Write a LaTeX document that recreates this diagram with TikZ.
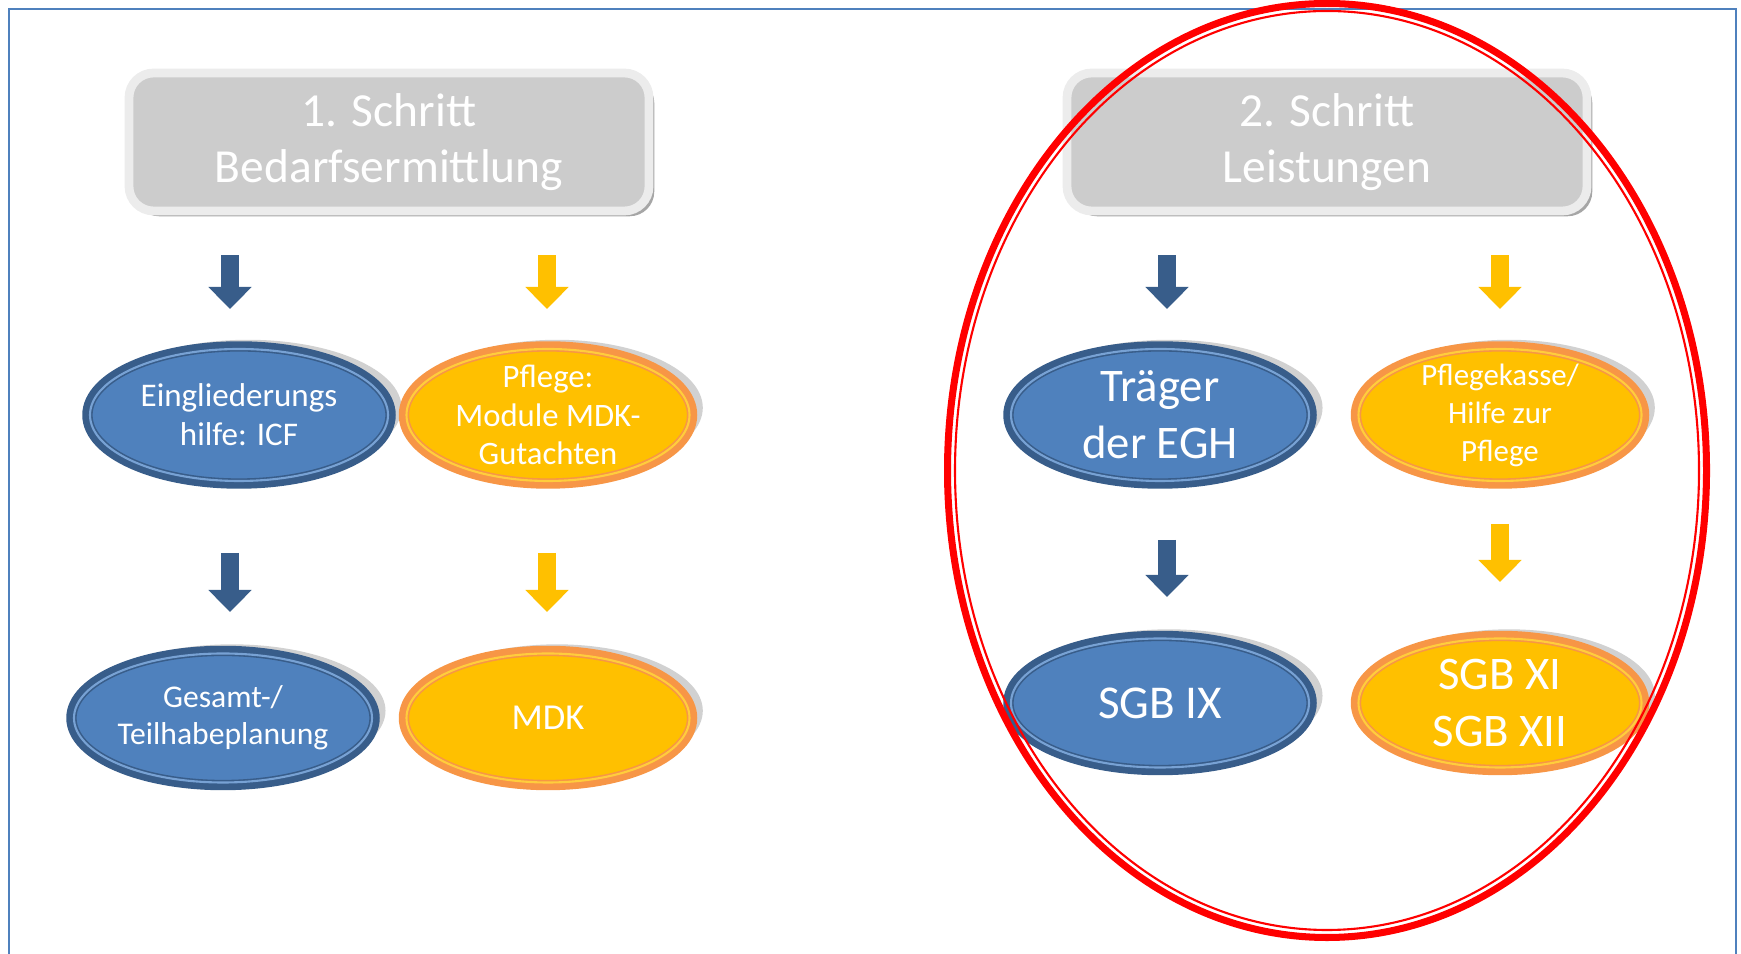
\documentclass[tikz,border=0pt]{standalone}
\usepackage{fontspec}
\setmainfont{Carlito}
\usepackage{tikz}
\usetikzlibrary{shapes.geometric, arrows.meta, shadows}
\definecolor{eghBlue}{RGB}{79, 129, 189}
\definecolor{eghDark}{RGB}{56, 93, 138}
\definecolor{eghLight}{RGB}{120, 162, 212}
\definecolor{pflYellow}{RGB}{255, 192, 0}
\definecolor{pflOrange}{RGB}{247, 150, 70}
\definecolor{pflLight}{RGB}{255, 205, 60}
\definecolor{stepGray}{RGB}{204, 204, 204}
\definecolor{stepRim}{RGB}{236, 236, 236}
\definecolor{frameBlue}{RGB}{79, 129, 189}
\definecolor{ringRed}{RGB}{255, 0, 0}

\begin{document}
\begin{tikzpicture}[
    stepbox/.style={draw=stepRim, fill=stepGray, line width=2.5pt, rounded corners=7pt, minimum width=5.2cm, minimum height=1.38cm, text=white, align=center, font=\fontsize{13.5}{16.1}\selectfont, drop shadow={shadow xshift=1.5pt, shadow yshift=-1.5pt, fill=black, opacity=0.35}},
    oval/.style={ellipse, inner xsep=-3mm, inner ysep=-6mm, outer sep=0pt, text=white, align=center, line width=0.45pt, double distance=0.6pt, drop shadow={shadow xshift=2.5pt, shadow yshift=2pt, shadow scale=1.03, fill=black, opacity=0.18}},
    eghoval/.style={oval, fill=eghBlue, draw=eghDark, double=eghLight, preaction={draw=eghDark, line width=4.4pt}, minimum width=2.98cm},
    pfloval/.style={oval, fill=pflYellow, draw=pflOrange, double=pflLight, preaction={draw=pflOrange, line width=4.4pt}, minimum width=2.83cm},
    eghdown/.style={-{Triangle[width=4.2mm, length=2.2mm]}, line width=1.8mm, color=eghDark},
    pfldown/.style={-{Triangle[width=4.2mm, length=2.2mm]}, line width=1.8mm, color=pflYellow}
]
    \useasboundingbox (0,0) rectangle (17.41,-9.54);

    % Frame
    \draw[frameBlue, line width=0.5pt] (0.09,-9.8) -- (0.09,-0.09) -- (17.36,-0.09) -- (17.36,-9.8);

    % Step 1: Bedarfsermittlung
    \node[stepbox] (hdrA) at (3.89,-1.42) {1. Schritt\\Bedarfsermittlung};
    \node[eghoval, minimum height=1.32cm, font=\fontsize{9.4}{11}\selectfont] (eA1) at (2.39,-4.15) {Eingliederungs\\hilfe: ICF};
    \node[pfloval, minimum height=1.32cm, font=\fontsize{9.3}{11}\selectfont] (eB1) at (5.48,-4.15) {Pflege:\\Module MDK-\\Gutachten};
    \node[eghoval, minimum height=1.29cm, font=\fontsize{9}{10.5}\selectfont] (eA2) at (2.23,-7.18) {Gesamt-/\\Teilhabeplanung};
    \node[pfloval, minimum height=1.29cm, font=\fontsize{10.4}{12}\selectfont] (eB2) at (5.48,-7.18) {MDK};

    % Step 2: Leistungen
    \node[stepbox] (hdrB) at (13.27,-1.42) {2. Schritt\\Leistungen};
    \node[eghoval, minimum height=1.32cm, font=\fontsize{13.3}{16.2}\selectfont] (eC1) at (11.60,-4.15) {Träger\\der EGH};
    \node[pfloval, minimum height=1.32cm, font=\fontsize{8.8}{10.8}\selectfont] (eD1) at (15.00,-4.15) {Pflegekasse/\\Hilfe zur\\Pflege};
    \node[eghoval, minimum height=1.29cm, font=\fontsize{13.4}{16}\selectfont] (eC2) at (11.60,-7.03) {SGB IX};
    \node[pfloval, minimum height=1.29cm, font=\fontsize{13.3}{16.4}\selectfont] (eD2) at (15.00,-7.03) {SGB XI\\SGB XII};

    % Arrows
    \coordinate (colA) at (2.30,0);
    \coordinate (colB) at (5.47,0);
    \coordinate (colC) at (11.67,0);
    \coordinate (colD) at (15.00,0);
    \draw[eghdown, shorten <=4mm, shorten >=4mm] (hdrA.south -| colA) -- (eA1.north -| colA);
    \draw[pfldown, shorten <=4mm, shorten >=4mm] (hdrA.south -| colB) -- (eB1.north -| colB);
    \draw[eghdown, shorten <=7.2mm, shorten >=4.15mm] (eA1.south -| colA) -- (eA2.north -| colA);
    \draw[pfldown, shorten <=7.2mm, shorten >=4.15mm] (eB1.south -| colB) -- (eB2.north -| colB);
    \draw[eghdown, shorten <=4mm, shorten >=4mm] (hdrB.south -| colC) -- (eC1.north -| colC);
    \draw[pfldown, shorten <=4mm, shorten >=4mm] (hdrB.south -| colD) -- (eD1.north -| colD);
    \draw[eghdown, shorten <=5.9mm, shorten >=4.15mm] (eC1.south -| colC) -- (eC2.north -| colC);
    \draw[pfldown, shorten <=4.3mm, shorten >=5.65mm] (eD1.south -| colD) -- (eD2.north -| colD);

    % Highlight ring
    \draw[ringRed, line width=2pt] (13.27,-4.705) ellipse [x radius=3.795cm, y radius=4.67cm];
    \draw[ringRed, line width=0.6pt] (13.27,-4.705) ellipse [x radius=3.72cm, y radius=4.595cm];
\end{tikzpicture}
\end{document}
